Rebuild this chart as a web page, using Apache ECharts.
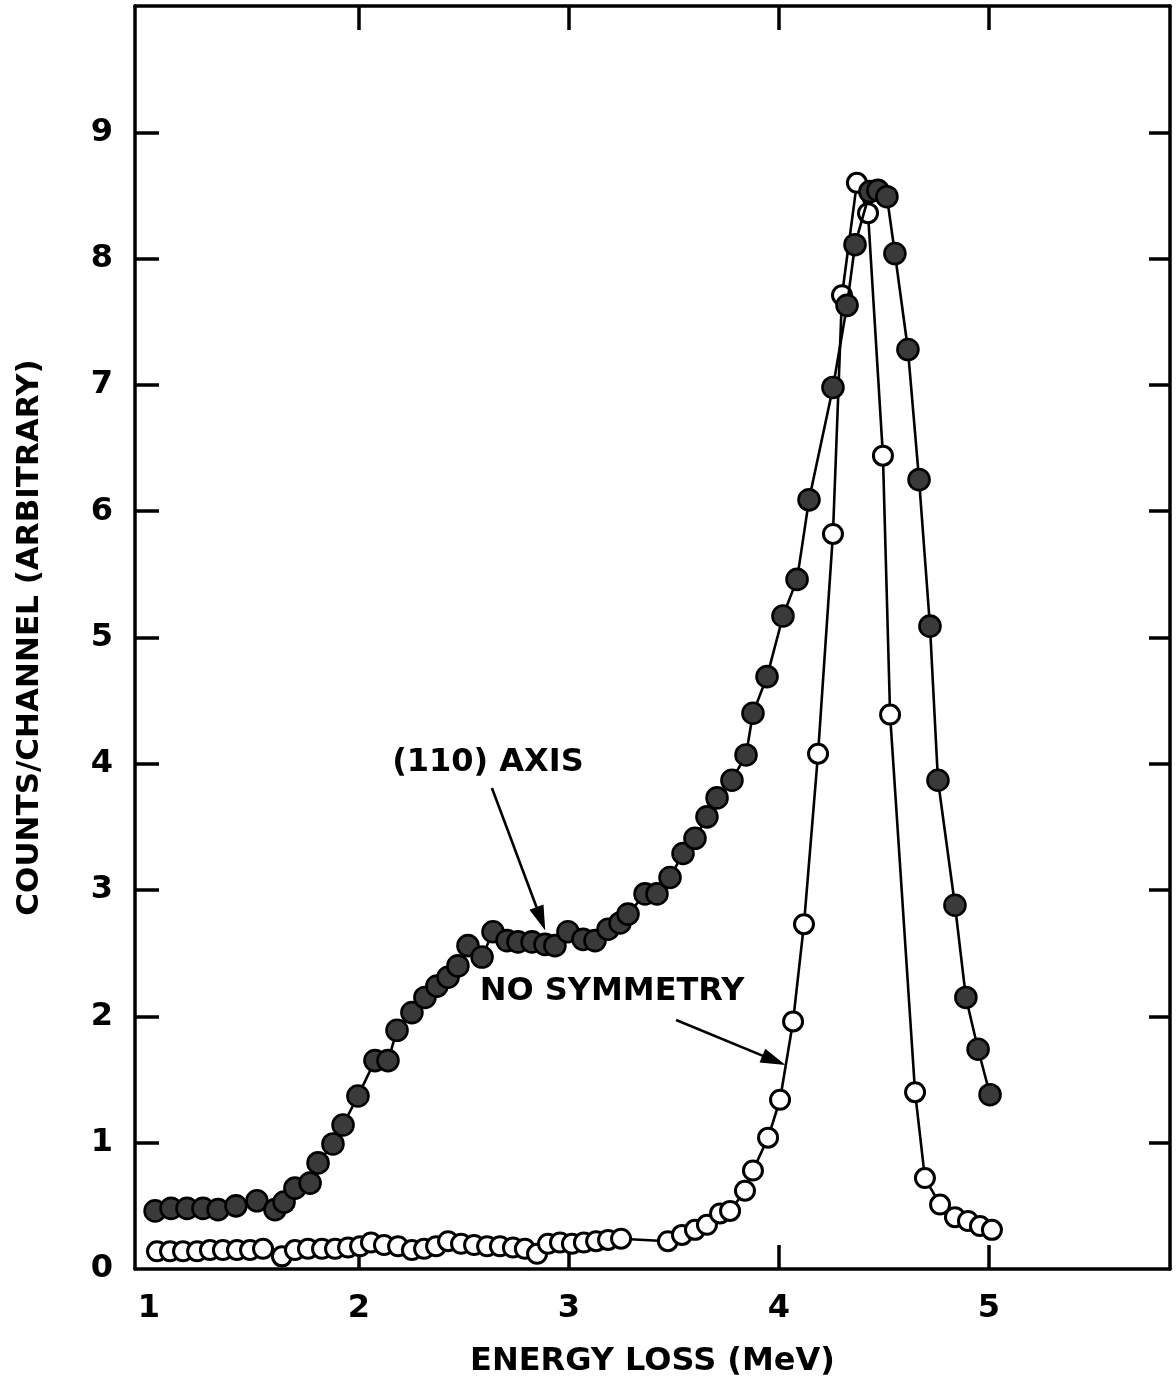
<!DOCTYPE html>
<html>
<head>
<meta charset="utf-8">
<script src="https://cdn.jsdelivr.net/npm/echarts@6/dist/echarts.min.js"></script>
<style>
  html, body { margin: 0; padding: 0; background: #ffffff; }
  #chart { width: 1176px; height: 1381px; }
</style>
</head>
<body>
<div id="chart"></div>
<script>
// Energy-loss spectrum, beam along the (110) axis (filled circles)
const axisEnergy = [
  1.029, 1.105, 1.181, 1.257, 1.329, 1.414, 1.514, 1.600, 1.643, 1.695,
  1.767, 1.805, 1.876, 1.924, 1.995, 2.076, 2.138, 2.181, 2.252, 2.314,
  2.371, 2.424, 2.471, 2.519, 2.586, 2.638, 2.705, 2.757, 2.824, 2.886,
  2.933, 2.995, 3.067, 3.124, 3.186, 3.243, 3.281, 3.362, 3.419, 3.481,
  3.543, 3.600, 3.657, 3.705, 3.776, 3.843, 3.876, 3.943, 4.019, 4.086,
  4.143, 4.257, 4.324, 4.362, 4.433, 4.471, 4.514, 4.552, 4.614, 4.667,
  4.719, 4.757, 4.838, 4.890, 4.948, 5.005
];
const axisCounts = [
  0.46, 0.48, 0.48, 0.48, 0.47, 0.50, 0.54, 0.47, 0.53, 0.64,
  0.68, 0.84, 0.99, 1.14, 1.37, 1.65, 1.65, 1.89, 2.03, 2.15,
  2.24, 2.31, 2.40, 2.56, 2.47, 2.67, 2.60, 2.59, 2.59, 2.57,
  2.56, 2.67, 2.61, 2.60, 2.69, 2.74, 2.81, 2.97, 2.97, 3.10,
  3.29, 3.41, 3.58, 3.73, 3.87, 4.07, 4.40, 4.69, 5.17, 5.46,
  6.09, 6.98, 7.63, 8.11, 8.53, 8.54, 8.49, 8.04, 7.28, 6.25,
  5.09, 3.87, 2.88, 2.15, 1.74, 1.38
];

// Energy-loss spectrum, random (no symmetry) orientation (open circles)
const noSymEnergy = [
  1.038, 1.100, 1.162, 1.229, 1.290, 1.352, 1.419, 1.481, 1.543, 1.633,
  1.695, 1.757, 1.824, 1.886, 1.948, 2.005, 2.057, 2.119, 2.186, 2.252,
  2.310, 2.367, 2.424, 2.486, 2.548, 2.610, 2.671, 2.733, 2.790, 2.848,
  2.900, 2.957, 3.014, 3.071, 3.129, 3.186, 3.248, 3.471, 3.538, 3.600,
  3.657, 3.719, 3.767, 3.838, 3.876, 3.948, 4.005, 4.067, 4.119, 4.186,
  4.257, 4.300, 4.371, 4.424, 4.495, 4.529, 4.648, 4.695, 4.767, 4.838,
  4.900, 4.957, 5.014
];
const noSymCounts = [
  0.14, 0.14, 0.14, 0.14, 0.15, 0.15, 0.15, 0.15, 0.16, 0.10,
  0.15, 0.16, 0.16, 0.16, 0.17, 0.18, 0.21, 0.19, 0.18, 0.15,
  0.16, 0.18, 0.22, 0.20, 0.19, 0.18, 0.18, 0.17, 0.16, 0.12,
  0.20, 0.21, 0.20, 0.21, 0.22, 0.23, 0.24, 0.22, 0.27, 0.31,
  0.35, 0.44, 0.46, 0.62, 0.78, 1.04, 1.34, 1.96, 2.73, 4.08,
  5.82, 7.71, 8.60, 8.36, 6.44, 4.39, 1.40, 0.72, 0.51, 0.41,
  0.38, 0.34, 0.31
];

// Axis tick marks and labels
const xLabelValues = [1, 2, 3, 4, 5];
const xTickValues = [2, 3, 4, 5];
const yLabelValues = [0, 1, 2, 3, 4, 5, 6, 7, 8, 9];
const yTickValues = [1, 2, 3, 4, 5, 6, 7, 8, 9];

// Annotation texts
const axisNote = '(110) AXIS';
const noSymNote = 'NO SYMMETRY';

const FONT = 'DejaVu Sans';
const X_MIN = 0.9333, X_MAX = 5.862;
const Y_MIN = 0, Y_MAX = 10;

function pairs(xs, ys) { return xs.map((x, i) => [x, ys[i]]); }

// Frame lines stay on the grid edges (never moved to the zero of the other axis)
const frameLine = { show: true, onZero: false, lineStyle: { color: '#000', width: 3.5 } };
const tickStyle = { color: '#000', width: 3.5 };

const chart = echarts.init(document.getElementById('chart'), null, { renderer: 'canvas' });

chart.setOption({
  animation: false,
  backgroundColor: '#ffffff',
  grid: {
    left: 135, right: 6, top: 6, bottom: 112,
    containLabel: false,
    outerBoundsMode: 'none'
  },
  xAxis: [
    {
      type: 'value', position: 'bottom', min: X_MIN, max: X_MAX,
      splitLine: { show: false },
      axisLine: frameLine,
      axisTick: { show: true, inside: true, length: 24, customValues: xTickValues, lineStyle: tickStyle },
      axisLabel: { show: true, customValues: xLabelValues, margin: 24,
                   color: '#000', fontFamily: FONT, fontWeight: 'bold', fontSize: 32 },
      name: 'ENERGY LOSS (MeV)', nameLocation: 'middle', nameGap: 77,
      nameTextStyle: { color: '#000', fontFamily: FONT, fontWeight: 'bold', fontSize: 32 }
    },
    {
      type: 'value', position: 'top', min: X_MIN, max: X_MAX,
      splitLine: { show: false },
      axisLine: frameLine,
      axisTick: { show: true, inside: true, length: 24, customValues: xTickValues, lineStyle: tickStyle },
      axisLabel: { show: false }
    }
  ],
  yAxis: [
    {
      type: 'value', position: 'left', min: Y_MIN, max: Y_MAX,
      splitLine: { show: false },
      axisLine: frameLine,
      axisTick: { show: true, inside: true, length: 24, customValues: yTickValues, lineStyle: tickStyle },
      axisLabel: { show: true, customValues: yLabelValues, margin: 22,
                   color: '#000', fontFamily: FONT, fontWeight: 'bold', fontSize: 32 },
      name: 'COUNTS/CHANNEL (ARBITRARY)', nameLocation: 'middle', nameGap: 90, nameRotate: 90,
      nameTextStyle: { color: '#000', fontFamily: FONT, fontWeight: 'bold', fontSize: 31 }
    },
    {
      type: 'value', position: 'right', min: Y_MIN, max: Y_MAX,
      splitLine: { show: false },
      axisLine: frameLine,
      axisTick: { show: true, inside: true, length: 21, customValues: yTickValues, lineStyle: tickStyle },
      axisLabel: { show: false }
    }
  ],
  series: [
    {
      name: 'NO SYMMETRY',
      type: 'line',
      data: pairs(noSymEnergy, noSymCounts),
      z: 2,
      symbol: 'circle',
      symbolSize: 19,
      showAllSymbol: true,
      lineStyle: { color: '#000', width: 2.6 },
      itemStyle: { color: '#ffffff', borderColor: '#000', borderWidth: 3 },
      emphasis: { disabled: true }
    },
    {
      name: '(110) AXIS',
      type: 'line',
      data: pairs(axisEnergy, axisCounts),
      z: 3,
      symbol: 'circle',
      symbolSize: 21,
      showAllSymbol: true,
      lineStyle: { color: '#000', width: 2.6 },
      itemStyle: { color: '#3a3a3a', borderColor: '#000', borderWidth: 2.6 },
      emphasis: { disabled: true },
      markLine: {
        silent: true,
        symbol: ['none', 'triangle'],
        symbolSize: [15, 25],
        label: { show: false },
        lineStyle: { color: '#000', width: 2.6, type: 'solid' },
        itemStyle: { color: '#000' },
        emphasis: { disabled: true },
        data: [
          [{ coord: [2.633, 3.808] }, { coord: [2.866, 2.773] }],
          [{ coord: [3.510, 1.971] }, { coord: [3.976, 1.652] }]
        ]
      },
      markPoint: {
        silent: true,
        symbol: 'circle',
        symbolSize: 0,
        label: {
          show: true, position: 'inside', formatter: '{b}',
          color: '#000', fontFamily: FONT, fontWeight: 'bold', fontSize: 32
        },
        data: [
          { name: axisNote, coord: [2.614, 4.006] },
          { name: noSymNote, coord: [3.205, 2.193] }
        ]
      }
    }
  ]
});
</script>
</body>
</html>
